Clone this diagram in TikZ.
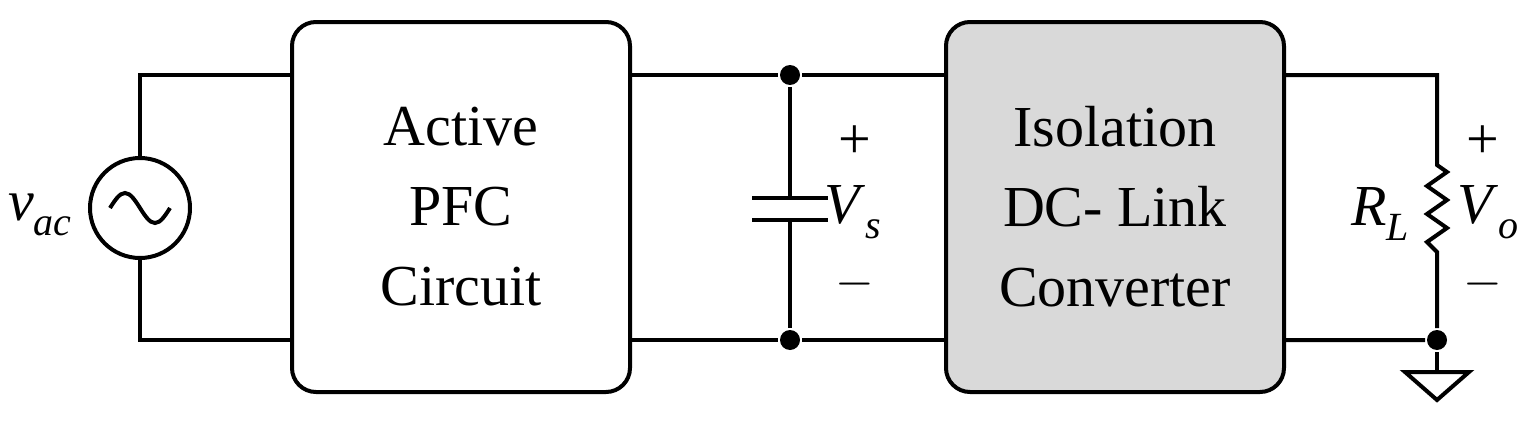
\documentclass[tikz,border=0pt]{standalone}
\usepackage{fontspec}
\setmainfont{Liberation Serif}
\newcommand{\iv}[2]{\textit{#1}\raisebox{-0.25em}{\fontsize{20}{20}\selectfont\textit{#2}}}
\begin{document}
\begin{tikzpicture}[x=0.5pt,y=-0.5pt,line width=2pt,
  box/.style={draw,rounded corners=12pt,minimum width=169pt,minimum height=185pt,inner sep=0pt,align=center,font=\fontsize{29}{40}\selectfont},
  dot/.style={circle,fill,inner sep=0pt,minimum size=10pt},
  lbl/.style={font=\fontsize{29}{34}\selectfont,inner sep=0pt}]
\useasboundingbox (0,0) rectangle (1528,423);
\node[box] (pfc) at (461,207) {Active\\PFC\\Circuit};
\node[box,fill={rgb,255:red,217;green,217;blue,217}] (iso) at (1115,207) {Isolation\\DC- Link\\Converter};
\node[circle,draw,minimum size=50pt,inner sep=0pt] (src) at (140,208) {};
\draw (src.center) ++(-30,0) sin ++(15,-15) cos ++(15,15) sin ++(15,15) cos ++(15,-15);
\coordinate (st) at (140,75); \coordinate (sb) at (140,340);
\draw (src.north) -- (st) -- (pfc.west|-st);
\draw (src.south) -- (sb) -- (pfc.west|-sb);
\node[dot] (d1) at (790,75) {};
\node[dot] (d2) at (790,340) {};
\draw (pfc.east|-d1) -- (d1) -- (iso.west|-d1);
\draw (pfc.east|-d2) -- (d2) -- (iso.west|-d2);
\coordinate (c1) at (790,198); \coordinate (c2) at (790,220);
\draw (d1) -- (c1); \draw (c2) -- (d2);
\draw (752,198) -- (828,198); \draw (752,220) -- (828,220);
\node[lbl] (p1) at (855,142) {+};
\node[lbl] (vs) at (853,212) {\iv{V}{s}};
\node[lbl] (m1) at (855,284) {$-$};
\node[dot] (d3) at (1437,340) {};
\coordinate (rt) at (1437,75);
\coordinate (r1) at (1437,165); \coordinate (r2) at (1437,252);
\draw (iso.east|-rt) -- (rt) -- (r1) -- ++(10,7) -- ++(-20,14) -- ++(20,14) -- ++(-20,14) -- ++(20,14) -- ++(-20,14) -- (r2) -- (d3) -- (iso.east|-d3);
\coordinate (g) at (1437,372);
\draw (d3) -- (g);
\draw (1405,372) -- (1469,372) -- (1437,400) -- cycle;
\node[lbl] (rl) at (1380,214) {\iv{R}{L}};
\node[lbl] (p2) at (1483,142) {+};
\node[lbl] (vo) at (1488,212) {\iv{V}{o}};
\node[lbl] (m2) at (1483,284) {$-$};
\node[lbl] (vac) at (40,215) {\iv{v}{ac}};
\end{tikzpicture}
\end{document}
